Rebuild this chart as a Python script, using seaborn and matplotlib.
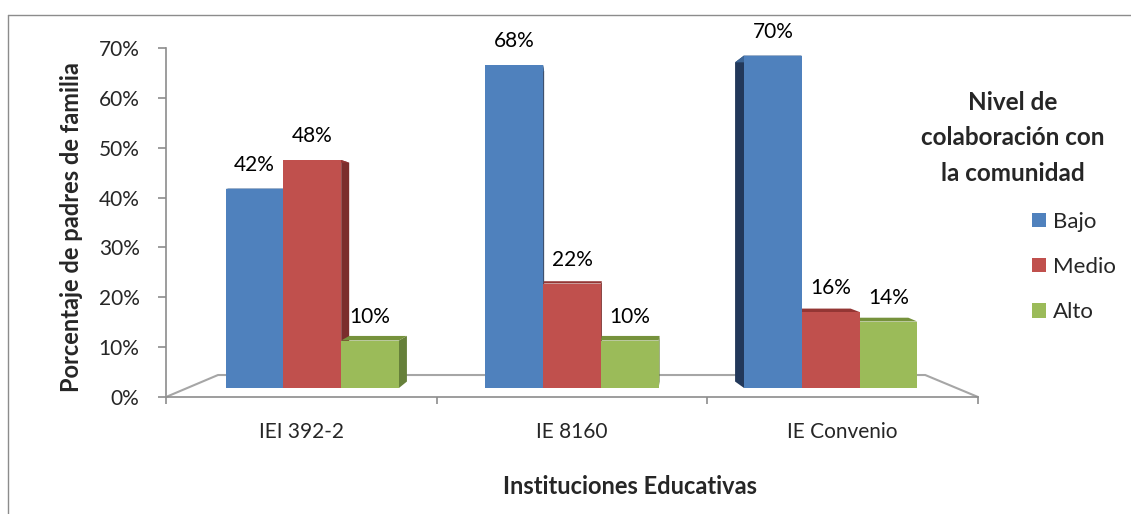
import pandas as pd
import seaborn as sns
import matplotlib.pyplot as plt
from matplotlib.patches import Polygon, Patch
from matplotlib.lines import Line2D
from matplotlib.ticker import FuncFormatter

# Datos
instituciones = ['IEI 392-2', 'IE 8160', 'IE Convenio']
niveles = ['Bajo', 'Medio', 'Alto']
bajo = [42, 68, 70]
medio = [48, 22, 16]
alto = [10, 10, 14]

colores = ['#4F81BD', '#C0504D', '#9BBB59']
lados = ['#22385A', '#7B2E2C', '#66803A']
techos = ['#3C6596', '#943634', '#76923C']

df = pd.DataFrame({
    'Institucion': instituciones * 3,
    'Nivel': [n for n in niveles for _ in instituciones],
    'Valor': bajo + medio + alto,
})

sns.set_style('white')
plt.rcParams['font.family'] = ['Lato', 'DejaVu Sans']

W, H = 1131, 514
fig = plt.figure(figsize=(W / 100, H / 100), dpi=100)
rect = [166 / W, 1 - 397 / H, (978 - 166) / W, (397 - 48) / H]

# eje de porcentajes (plano frontal)
ax_y = fig.add_axes(rect)
ax_y.set_ylim(0, 70)
ax_y.set_yticks(range(0, 71, 10))
ax_y.yaxis.set_major_formatter(FuncFormatter(lambda v, p: f'{v:.0f}%'))
ax_y.set_xticks([])
for s in ['top', 'right', 'bottom']:
    ax_y.spines[s].set_visible(False)
ax_y.spines['left'].set_color('#8C8C8C')
ax_y.spines['left'].set_linewidth(1.2)
ax_y.tick_params(axis='y', left=True, length=6, width=1.2, color='#8C8C8C', pad=13, labelsize=15)

# barras (plano del medio, un poco más atrás)
ax = fig.add_axes(rect)
ax.patch.set_alpha(0)
sns.barplot(data=df, x='Institucion', y='Valor', hue='Nivel', order=instituciones,
            hue_order=niveles, palette=colores, saturation=1, width=0.64,
            errorbar=None, legend=False, linewidth=0, ax=ax)
ax.set_xlim(-0.5, 2.5)
ax.set_ylim(-9 / 4.75, 340 / 4.75)

px_x = 1 / 271
prof = [8, 1, -9]
corr = [11, 0, -12]
for j, cont in enumerate(ax.containers):
    for i, bar in enumerate(cont):
        bar.set_x(bar.get_x() + corr[i] * px_x)
        x0, w, h = bar.get_x(), bar.get_width(), bar.get_height()
        dx = prof[i] * px_x
        dh = (34 - h) * 0.04
        base = 2 + (j if prof[i] >= 0 else 2 - j)
        bar.set_zorder(base + 0.5)
        xe = x0 + w if dx > 0 else x0
        ax.add_patch(Polygon([(xe, 0), (xe, h), (xe + dx, h + dh), (xe + dx, 34 * 0.04)],
                             closed=True, facecolor=lados[j], lw=0, zorder=base))
        ax.add_patch(Polygon([(x0, h), (x0 + w, h), (x0 + w + dx, h + dh), (x0 + dx, h + dh)],
                             closed=True, facecolor=techos[j], lw=0, zorder=base + 0.1))
        ax.annotate(f'{h:.0f}%', (x0 + w / 2, h), xytext=(0, 17), textcoords='offset points',
                    ha='center', va='center', fontsize=15, color='black', zorder=10)

# piso
ax.plot([0, 0.064, 0.935, 1.0], [0, 0.063, 0.063, 0], transform=ax.transAxes,
        color='#A6A6A6', lw=1.5, clip_on=False, zorder=1)

for s in ['top', 'right', 'left']:
    ax.spines[s].set_visible(False)
ax.spines['bottom'].set_color('#8C8C8C')
ax.spines['bottom'].set_linewidth(1.2)
ax.set_yticks([])
ax.tick_params(axis='x', which='major', length=0, pad=18, labelsize=15)
ax.set_xticks([-0.5, 0.5, 1.5, 2.5], minor=True)
ax.tick_params(axis='x', which='minor', bottom=True, length=5, width=1.2, color='#8C8C8C')
ax.set_xlabel('')
ax.set_ylabel('')

fig.text(72 / W, 1 - 227 / H, 'Porcentaje de padres de familia', rotation=90,
         ha='center', va='center', fontsize=17, fontweight='bold')
fig.text(630 / W, 1 - 487 / H, 'Instituciones Educativas', ha='center', va='center',
         fontsize=17, fontweight='bold')

# leyenda
fig.text(1013 / W, 1 - 138 / H, 'Nivel de\ncolaboración con\nla comunidad', ha='center',
         va='center', multialignment='center', fontsize=17.5, fontweight='bold', linespacing=1.68)
handles = [Patch(facecolor=c, edgecolor='none') for c in colores]
fig.legend(handles, niveles, loc='center left', bbox_to_anchor=(1032 / W, 1 - 267 / H),
           frameon=False, fontsize=16, handlelength=0.63, handleheight=0.63,
           handletextpad=0.3, labelspacing=1.14, borderpad=0, borderaxespad=0)

# marco
fig.add_artist(Line2D([8 / W, 8 / W], [0, 1 - 15 / H], transform=fig.transFigure, color='#8C8C8C', lw=1))
fig.add_artist(Line2D([8 / W, 1], [1 - 15 / H, 1 - 15 / H], transform=fig.transFigure, color='#8C8C8C', lw=1))

fig.savefig('out.png', dpi=100)
